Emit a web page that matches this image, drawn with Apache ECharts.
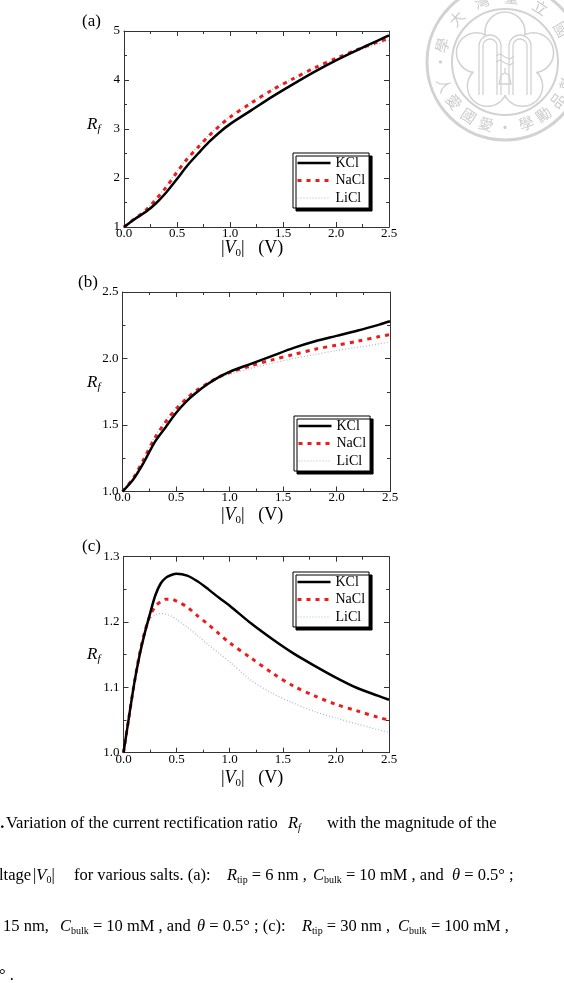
<!DOCTYPE html>
<html>
<head>
<meta charset="utf-8">
<script src="https://cdn.jsdelivr.net/npm/echarts@6/dist/echarts.min.js"></script>
<style>
html, body { margin: 0; padding: 0; background: #fff; }
#main { width: 564px; height: 983px; }
</style>
</head>
<body>
<div id="main"></div>
<script>
// |V0| (V) sampled for panels (a) and (b)
var vAB = [0, 0.1, 0.2, 0.3, 0.4, 0.5, 0.6, 0.7, 0.8, 0.9, 1.0, 1.2, 1.4, 1.6, 1.8, 2.0, 2.2, 2.4, 2.5];
// (a) Rtip = 6 nm, Cbulk = 10 mM
var kclA  = [1.0, 1.16, 1.30, 1.48, 1.71, 1.98, 2.26, 2.50, 2.73, 2.93, 3.10, 3.38, 3.66, 3.92, 4.17, 4.40, 4.61, 4.81, 4.91];
var naclA = [1.0, 1.17, 1.33, 1.56, 1.82, 2.12, 2.40, 2.63, 2.86, 3.06, 3.24, 3.53, 3.80, 4.03, 4.25, 4.44, 4.62, 4.78, 4.85];
var liclA = [1.0, 1.17, 1.34, 1.57, 1.84, 2.14, 2.42, 2.65, 2.88, 3.08, 3.26, 3.54, 3.81, 4.03, 4.24, 4.42, 4.59, 4.74, 4.81];
// (b) Rtip = 15 nm, Cbulk = 10 mM
var kclB  = [1.0, 1.09, 1.22, 1.37, 1.48, 1.59, 1.68, 1.75, 1.81, 1.86, 1.90, 1.96, 2.02, 2.08, 2.13, 2.17, 2.21, 2.255, 2.28];
var naclB = [1.0, 1.10, 1.245, 1.40, 1.52, 1.62, 1.70, 1.765, 1.815, 1.86, 1.895, 1.945, 1.99, 2.03, 2.07, 2.10, 2.13, 2.165, 2.18];
var liclB = [1.0, 1.10, 1.25, 1.41, 1.53, 1.63, 1.705, 1.765, 1.81, 1.85, 1.88, 1.925, 1.965, 2.0, 2.03, 2.06, 2.085, 2.11, 2.125];
// (c) Rtip = 30 nm, Cbulk = 100 mM
var vC    = [0, 0.05, 0.1, 0.15, 0.2, 0.25, 0.3, 0.35, 0.4, 0.45, 0.5, 0.6, 0.7, 0.8, 0.9, 1.0, 1.2, 1.4, 1.6, 1.8, 2.0, 2.2, 2.4, 2.5];
var kclC  = [1.0, 1.053, 1.105, 1.148, 1.183, 1.213, 1.241, 1.259, 1.268, 1.272, 1.274, 1.271, 1.262, 1.250, 1.237, 1.225, 1.198, 1.174, 1.152, 1.133, 1.115, 1.099, 1.087, 1.081];
var naclC = [1.0, 1.053, 1.105, 1.15, 1.185, 1.21, 1.224, 1.231, 1.235, 1.235, 1.232, 1.223, 1.209, 1.196, 1.182, 1.168, 1.145, 1.122, 1.102, 1.087, 1.074, 1.064, 1.054, 1.05];
var liclC = [1.0, 1.053, 1.105, 1.15, 1.183, 1.203, 1.211, 1.213, 1.212, 1.209, 1.204, 1.192, 1.179, 1.165, 1.152, 1.139, 1.111, 1.091, 1.076, 1.063, 1.053, 1.044, 1.035, 1.031];

var saltNames = ['KCl', 'NaCl', 'LiCl'];
var xTicks = [0, 2.5, 0.5];          // min, max, interval
var yTicksA = [1, 5, 1];
var yTicksB = [1.0, 2.5, 0.5];
var yTicksC = [1.0, 1.3, 0.1];

var serif = '"Liberation Serif", "Times New Roman", serif';
var axisColor = '#333';
var lineStyles = [
  { color: '#000', width: 2.5, type: 'solid' },
  { color: '#ee1b1b', width: 3, type: [4, 5] },
  { color: '#a9b6d8', width: 1.2, type: [1, 2] }
];

var panels = [
  { grid: { left: 124, top: 31, width: 265, height: 196 }, y: yTicksA, dec: 0, v: vAB, data: [kclA, naclA, liclA], legend: { left: 293, top: 153 } },
  { grid: { left: 122.5, top: 292, width: 267.5, height: 199.5 }, y: yTicksB, dec: 1, v: vAB, data: [kclB, naclB, liclB], legend: { left: 294, top: 416 } },
  { grid: { left: 123.5, top: 556.7, width: 265.5, height: 196 }, y: yTicksC, dec: 1, v: vC, data: [kclC, naclC, liclC], legend: { left: 293, top: 572 } }
];

function baseAxis() {
  return {
    axisLine: { onZero: false, lineStyle: { color: axisColor, width: 1 } },
    axisTick: { inside: true, length: 5, lineStyle: { color: axisColor } },
    minorTick: { show: true, splitNumber: 2, length: 3, lineStyle: { color: axisColor } },
    splitLine: { show: false },
    minorSplitLine: { show: false }
  };
}

var grids = [], xAxes = [], yAxes = [], series = [], legends = [];
panels.forEach(function (p, gi) {
  grids.push(Object.assign({ outerBoundsMode: 'none', containLabel: false }, p.grid));
  [true, false].forEach(function (main) {
    xAxes.push(Object.assign(baseAxis(), {
      type: 'value', gridIndex: gi, position: main ? 'bottom' : 'top',
      min: xTicks[0], max: xTicks[1], interval: xTicks[2],
      axisLabel: { show: main, margin: 0, fontFamily: serif, fontSize: 13, color: '#000',
        formatter: function (v) { return v.toFixed(1); } }
    }));
    yAxes.push(Object.assign(baseAxis(), {
      type: 'value', gridIndex: gi, position: main ? 'left' : 'right',
      min: p.y[0], max: p.y[1], interval: p.y[2],
      axisLabel: { show: main, margin: 4, fontFamily: serif, fontSize: 13, color: '#000',
        formatter: function (v) { return v.toFixed(p.dec); } }
    }));
  });
  p.data.forEach(function (vals, si) {
    series.push({
      name: saltNames[si], type: 'line', xAxisIndex: gi * 2, yAxisIndex: gi * 2,
      data: p.v.map(function (x, k) { return [x, vals[k]]; }),
      smooth: 0.3, symbol: 'none', silent: true,
      lineStyle: lineStyles[si], z: 3 - si
    });
  });
  legends.push({
    orient: 'vertical', left: p.legend.left, top: p.legend.top, selectedMode: false,
    itemWidth: 33, itemHeight: 14, itemGap: 3.5, padding: [3, 4, 3, 3],
    backgroundColor: '#fff', borderColor: '#000', borderWidth: 1,
    shadowColor: '#000', shadowBlur: 0, shadowOffsetX: 3, shadowOffsetY: 3,
    textStyle: { fontFamily: serif, fontSize: 14, color: '#000' },
    data: saltNames.map(function (n, si) {
      return { name: n, itemStyle: { opacity: 0 }, lineStyle: lineStyles[si] };
    })
  });
});

// text helper with italic / subscript pieces
function rt(x, y, str, size) {
  var sub = Math.round(size * 0.62), pad = Math.round(size * 0.55);
  return {
    type: 'text', x: x, y: y, silent: true, z: 10,
    style: {
      text: str, fill: '#000', fontFamily: serif, fontSize: size,
      verticalAlign: 'middle', align: 'left',
      rich: {
        b: { fontFamily: serif, fontSize: size, fontWeight: 'bold', fill: '#000' },
        i: { fontFamily: serif, fontSize: size, fontStyle: 'italic', fill: '#000' },
        s: { fontFamily: serif, fontSize: sub, fill: '#000', padding: [pad, 0, 0, 0] },
        si: { fontFamily: serif, fontSize: sub, fontStyle: 'italic', fill: '#000', padding: [pad, 0, 0, 0] }
      }
    }
  };
}

var graphics = [];
// panel letters, y titles, x titles
[['(a)', 82, 21.7, 125, 248], ['(b)', 78, 283, 383, 515], ['(c)', 82, 547, 655, 778]].forEach(function (t) {
  graphics.push(rt(t[1], t[2], t[0], 17));
  graphics.push(rt(87, t[3], '{i|R}{si|f}', 17));
  graphics.push(rt(221, t[4], '|{i|V}{s|0}|   (V)', 18));
});

// caption
var cap = 16.5;
graphics.push(rt(-8, 823.5, '{b|5.}', cap));
graphics.push(rt(6, 823.5, 'Variation of the current rectification ratio', cap));
graphics.push(rt(288, 823.5, '{i|R}{si|f}', cap));
graphics.push(rt(327, 823.5, 'with the magnitude of the', cap));
graphics.push(rt(-1, 876, 'ltage', cap));
graphics.push(rt(33, 876, '|{i|V}{s|0}|', cap));
graphics.push(rt(74, 876, 'for various salts. (a):', cap));
graphics.push(rt(227, 876, '{i|R}{s|tip} = 6 nm ,', cap));
graphics.push(rt(313, 876, '{i|C}{s|bulk} = 10 mM , and', cap));
graphics.push(rt(452, 876, '{i|θ} = 0.5° ;', cap));
graphics.push(rt(3, 926.5, '15 nm,', cap));
graphics.push(rt(60, 926.5, '{i|C}{s|bulk} = 10 mM , and', cap));
graphics.push(rt(197, 926.5, '{i|θ} = 0.5° ; (c):', cap));
graphics.push(rt(302, 926.5, '{i|R}{s|tip} = 30 nm ,', cap));
graphics.push(rt(398, 926.5, '{i|C}{s|bulk} = 100 mM ,', cap));
graphics.push(rt(-1, 976, '° .', cap));

// faint university seal, top right
var sc = [505, 62], sealGray = '#d2d2d2';
function sealStroke(el, w) {
  el.silent = true; el.z = 0;
  el.style = Object.assign({ fill: 'none', stroke: sealGray, lineWidth: w || 1.3 }, el.style || {});
  return el;
}
graphics.push(sealStroke({ type: 'circle', shape: { cx: sc[0], cy: sc[1], r: 78 } }, 3));
graphics.push(sealStroke({ type: 'circle', shape: { cx: sc[0], cy: sc[1], r: 53 } }, 2));
for (var k = 0; k < 5; k++) {
  var a = (90 + 72 * k) * Math.PI / 180;
  graphics.push(sealStroke({ type: 'circle', shape: { cx: sc[0] + 30 * Math.cos(a), cy: sc[1] - 30 * Math.sin(a), r: 20 }, style: { fill: '#fff' } }, 1.5));
}
graphics.push({ type: 'circle', silent: true, z: 0, shape: { cx: sc[0], cy: sc[1], r: 33 }, style: { fill: '#fff' } });
[[490, 11], [490, 7], [520, 11], [520, 7]].forEach(function (ar) {
  graphics.push(sealStroke({ type: 'arc', shape: { cx: ar[0], cy: 46, r: ar[1], startAngle: Math.PI, endAngle: 2 * Math.PI, clockwise: true } }));
  graphics.push(sealStroke({ type: 'line', shape: { x1: ar[0] - ar[1], y1: 46, x2: ar[0] - ar[1], y2: 95 } }));
  graphics.push(sealStroke({ type: 'line', shape: { x1: ar[0] + ar[1], y1: 46, x2: ar[0] + ar[1], y2: 95 } }));
});
graphics.push(sealStroke({ type: 'polyline', shape: { points: [[496, 56], [500, 54], [505, 57], [510, 59], [514, 56]] } }));
graphics.push(sealStroke({ type: 'polyline', shape: { points: [[496, 62], [500, 60], [505, 63], [510, 65], [514, 62]] } }));
graphics.push(sealStroke({ type: 'line', shape: { x1: 505, y1: 68, x2: 505, y2: 73 } }));
graphics.push(sealStroke({ type: 'polygon', shape: { points: [[505, 73], [509, 75], [511, 84], [499, 84], [501, 75]] } }));

var sealTop = ['國', '立', '臺', '灣', '大', '學'], sealTopAng = [30, 57, 84, 111, 138, 165];
var sealBot = ['人', '愛', '國', '愛', '·', '學', '勵', '品', '敦'], sealBotAng = [201, 218, 236, 253, 270, 289, 306, 324, 341];
function sealChar(ch, deg, top) {
  var a = deg * Math.PI / 180;
  return { type: 'text', silent: true, z: 0, x: sc[0] + 65 * Math.cos(a), y: sc[1] - 65 * Math.sin(a),
    rotation: (top ? deg - 90 : deg + 90) * Math.PI / 180,
    style: { text: ch, fill: '#cdcdcd', fontFamily: '"Noto Sans CJK TC"', fontSize: 15, align: 'center', verticalAlign: 'middle' } };
}
sealTop.forEach(function (c, k) { graphics.push(sealChar(c, sealTopAng[k], true)); });
sealBot.forEach(function (c, k) { graphics.push(sealChar(c, sealBotAng[k], false)); });
graphics.push(sealChar('·', 180, true));

var chart = echarts.init(document.getElementById('main'));
chart.setOption({
  animation: false,
  backgroundColor: '#fff',
  grid: grids,
  xAxis: xAxes,
  yAxis: yAxes,
  legend: legends,
  series: series,
  graphic: graphics
});
</script>
</body>
</html>
